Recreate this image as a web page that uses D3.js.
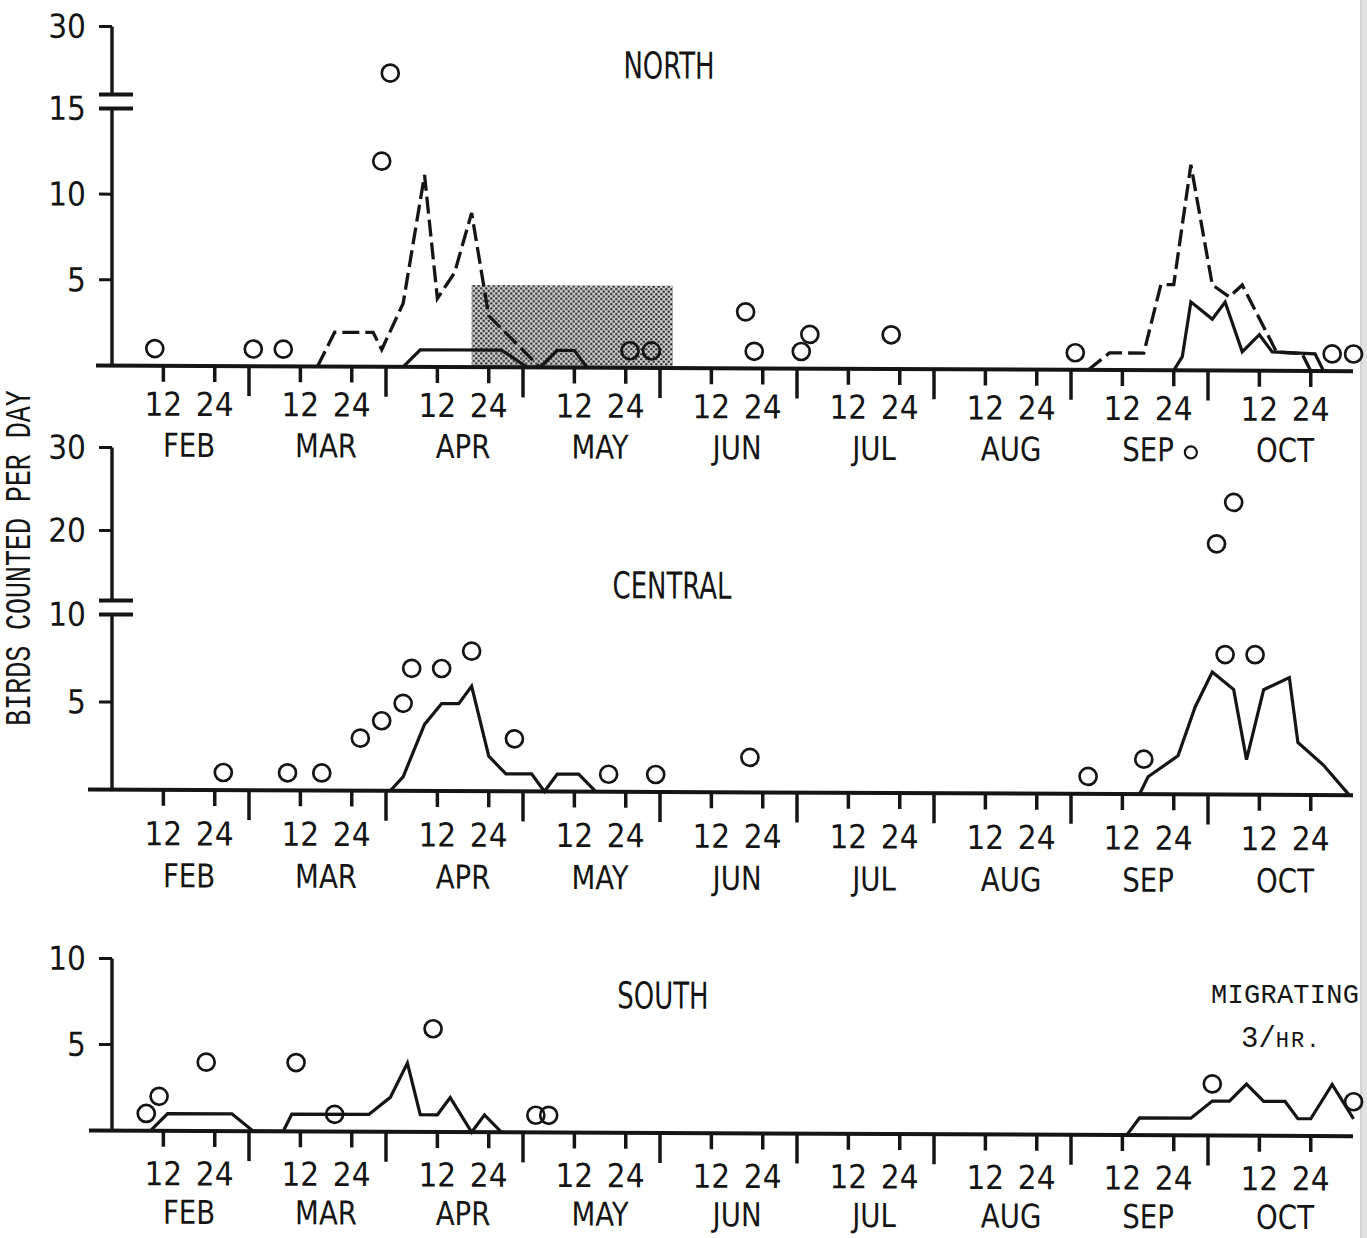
<!DOCTYPE html>
<html>
<head>
<meta charset="utf-8">
<script src="https://cdn.jsdelivr.net/npm/d3@7"></script>
<style>
  html, body { margin: 0; padding: 0; background: #fff; }
  svg { display: block; }
  .goth { font-family: 'Liberation Sans Narrow', 'DejaVu Sans Condensed', 'Arial Narrow', sans-serif; fill: #151515; }
  .mono { font-family: 'Liberation Mono', 'DejaVu Sans Mono', monospace; fill: #151515; }
</style>
</head>
<body>
<svg id="chart" width="1367" height="1238"></svg>
<script>
// ---- calendar axis -------------------------------------------------------
const months = ["FEB", "MAR", "APR", "MAY", "JUN", "JUL", "AUG", "SEP", "OCT"];
const dayTicks = [12, 24];

// ---- NORTH: daily counts ("M/D", birds) -----------------------------------
const northCircles = [
  ["2/10", 1], ["3/1", 1], ["3/8", 1], ["3/31", 12], ["4/1", 20],
  ["5/25", 1], ["5/30", 1], ["6/20", 3.3], ["6/22", 1], ["7/1", 1],
  ["7/3", 2], ["7/22", 2], ["9/1", 1], ["10/29", 1], ["11/2", 1]
];
const northDashedSpring = [
  ["3/16", 0], ["3/20", 2], ["3/29", 2], ["3/31", 1], ["4/4", 3.7],
  ["4/9", 11.2], ["4/12", 4], ["4/16", 5.5], ["4/20", 9], ["4/24", 3], ["5/4", 0]
];
const northSolidSpring = [
  ["4/4", 0], ["4/8", 1], ["4/27", 1], ["5/1", 0], ["5/4", 0],
  ["5/8", 1], ["5/12", 1], ["5/15", 0]
];
const northDashedFall = [
  ["9/4", 0], ["9/9", 1], ["9/17", 1], ["9/21", 5], ["9/24", 5],
  ["9/28", 12], ["10/1", 5], ["10/5", 4.3], ["10/8", 5], ["10/16", 1.1],
  ["10/22", 1], ["10/24", 0]
];
const northSolidFall = [
  ["9/24", 0], ["9/26", 0.8], ["9/28", 4], ["10/1", 3], ["10/4", 4],
  ["10/8", 1.1], ["10/12", 2.1], ["10/15", 1.1], ["10/25", 1], ["10/27", 0]
];
// stippled period on the NORTH panel: [start, end, level]
const northShade = ["4/20", "6/3", 4.8];

// ---- CENTRAL ---------------------------------------------------------------
const centralCircles = [
  ["2/26", 1], ["3/9", 1], ["3/17", 1], ["3/26", 3], ["3/31", 4],
  ["4/4", 5], ["4/6", 7], ["4/13", 7], ["4/20", 8], ["4/30", 3],
  ["5/20", 1], ["5/31", 1], ["6/21", 2], ["9/4", 1], ["9/17", 2],
  ["10/2", 19], ["10/4", 8], ["10/6", 24], ["10/11", 8]
];
// counts at or beyond the top of the scale
const centralCapped = [["9/28", 30]];
const centralSolidSpring = [
  ["4/1", 0], ["4/4", 0.8], ["4/9", 3.8], ["4/13", 5], ["4/17", 5],
  ["4/20", 6], ["4/24", 2], ["4/28", 1], ["5/2", 1], ["5/5", 0],
  ["5/8", 1], ["5/13", 1], ["5/17", 0]
];
const centralSolidFall = [
  ["9/16", 0], ["9/18", 1], ["9/25", 2.2], ["9/29", 5], ["10/1", 7],
  ["10/6", 6], ["10/9", 2], ["10/13", 6], ["10/19", 6.7], ["10/21", 3],
  ["10/27", 1.7], ["11/1", 0]
];

// ---- SOUTH -------------------------------------------------------------------
const southCircles = [
  ["2/8", 1], ["2/11", 2], ["2/22", 4], ["3/11", 4], ["3/20", 1],
  ["4/11", 6], ["5/3", 1], ["5/6", 1], ["10/1", 3], ["11/2", 2]
];
const southSolidSpring = [
  ["2/9", 0], ["2/13", 1], ["2/28", 1], ["3/1", 0], ["3/8", 0],
  ["3/10", 1], ["3/28", 1], ["4/1", 2], ["4/5", 4], ["4/8", 1],
  ["4/12", 1], ["4/15", 2], ["4/20", 0], ["4/23", 1], ["4/27", 0]
];
const southSolidFall = [
  ["9/13", 0], ["9/16", 1], ["9/28", 1], ["10/1", 2], ["10/5", 2],
  ["10/9", 3], ["10/13", 2], ["10/18", 2], ["10/21", 1], ["10/24", 1],
  ["10/29", 3], ["11/2", 1]
];

// ---- helpers -----------------------------------------------------------------
// month index + day position (ticks 12 and 24 sit at 3/8 and 3/4 of a month)
const toMonths = s => { const [M, D] = s.split("/").map(Number); return (M - 2) + D / 32; };

const svg = d3.select("#chart");
const INK = "#151515";

// faint page edge at the right
svg.append("rect").attr("x", 1360).attr("y", 0).attr("width", 7).attr("height", 1238).attr("fill", "#e2e2e2");
svg.append("line").attr("x1", 1361).attr("x2", 1361).attr("y1", 0).attr("y2", 1238).attr("stroke", "#cfcfcf").attr("stroke-width", 1.5);

// stipple pattern
const defs = svg.append("defs");
const pat = defs.append("pattern").attr("id", "stipple").attr("patternUnits", "userSpaceOnUse")
  .attr("width", 5).attr("height", 5);
pat.append("rect").attr("width", 5).attr("height", 5).attr("fill", "#d0d0d0");
pat.append("circle").attr("cx", 1.25).attr("cy", 1.25).attr("r", 1.2).attr("fill", "#2a2a2a");
pat.append("circle").attr("cx", 3.75).attr("cy", 3.75).attr("r", 1.2).attr("fill", "#2a2a2a");

const x = d3.scaleLinear().domain([0, months.length]).range([112, 112 + 137 * months.length]);

const panels = [
  {
    title: "NORTH", titleX: 669, titleY: 62,
    lower: d3.scaleLinear().domain([0, 15]).range([365, 108]),
    upper: d3.scaleLinear().domain([15, 30]).range([94, 26]),
    lowerTicks: [5, 10, 15], upperTicks: [30],
    axisLeftStart: 96, tickLabelDy: 38.5, monthLabelDy: 79,
    circles: northCircles, capped: [],
    solid: [northSolidSpring, northSolidFall],
    dashed: [northDashedSpring, northDashedFall],
    shade: northShade
  },
  {
    title: "CENTRAL", titleX: 672, titleY: 582,
    lower: d3.scaleLinear().domain([0, 10]).range([789, 614]),
    upper: d3.scaleLinear().domain([20, 30]).range([530, 447]),
    lowerTicks: [5, 10], upperTicks: [20, 30],
    axisLeftStart: 88, tickLabelDy: 44, monthLabelDy: 85.5,
    circles: centralCircles, capped: centralCapped,
    solid: [centralSolidSpring, centralSolidFall],
    dashed: [], shade: null
  },
  {
    title: "SOUTH", titleX: 663, titleY: 992,
    lower: d3.scaleLinear().domain([0, 10]).range([1130, 958]),
    upper: null,
    lowerTicks: [5, 10], upperTicks: [],
    axisLeftStart: 89, tickLabelDy: 43, monthLabelDy: 81,
    circles: southCircles, capped: [],
    solid: [southSolidSpring, southSolidFall],
    dashed: [], shade: null
  }
];

// gothic text, optionally squeezed horizontally
function goth(g, px, py, str, size, anchor, sx) {
  return g.append("text").attr("class", "goth")
    .attr("transform", `translate(${px},${py}) scale(${sx || 1},1)`)
    .attr("text-anchor", anchor || "middle")
    .attr("font-size", size).text(str);
}

// the whole sheet sits very slightly askew
const sheet = svg.append("g").attr("transform", "skewY(0.26)");

panels.forEach(p => {
  const g = sheet.append("g");
  const lowMax = p.lower.domain()[1];
  const yv = v => (p.upper && v > lowMax) ? p.upper(v) : p.lower(v);
  const base = p.lower(0);
  const breakLow = p.lower(lowMax);
  const breakHigh = breakLow - 14;
  const top = p.upper ? p.upper(p.upper.domain()[1]) : breakLow;

  // stippled period
  if (p.shade) {
    const [s, e, lvl] = p.shade;
    g.append("rect")
      .attr("x", x(toMonths(s))).attr("width", x(toMonths(e)) - x(toMonths(s)))
      .attr("y", yv(lvl)).attr("height", base - yv(lvl))
      .attr("fill", "url(#stipple)");
  }

  // y axis line (with break)
  const axisX = x(0);
  if (p.upper) {
    g.append("line").attr("x1", axisX).attr("x2", axisX).attr("y1", base).attr("y2", breakLow)
      .attr("stroke", INK).attr("stroke-width", 3.4);
    g.append("line").attr("x1", axisX).attr("x2", axisX).attr("y1", breakHigh).attr("y2", top)
      .attr("stroke", INK).attr("stroke-width", 3.4);
    [breakLow, breakHigh].forEach(by => g.append("line")
      .attr("x1", axisX - 13).attr("x2", axisX + 21).attr("y1", by).attr("y2", by)
      .attr("stroke", INK).attr("stroke-width", 4));
  } else {
    g.append("line").attr("x1", axisX).attr("x2", axisX).attr("y1", base).attr("y2", top)
      .attr("stroke", INK).attr("stroke-width", 3.4);
  }

  // y ticks + labels
  const yTicks = p.lowerTicks.map(v => [v, p.lower(v)])
    .concat(p.upperTicks.map(v => [v, p.upper(v)]));
  yTicks.forEach(([v, yy]) => {
    g.append("line").attr("x1", axisX - 13).attr("x2", axisX).attr("y1", yy).attr("y2", yy)
      .attr("stroke", INK).attr("stroke-width", 3);
    goth(g, axisX - 26, yy + 11.5, String(v), 33, "end");
  });

  // x axis baseline
  g.append("line").attr("x1", p.axisLeftStart).attr("x2", 1353).attr("y1", base).attr("y2", base)
    .attr("stroke", INK).attr("stroke-width", 4);

  // short day ticks with labels, month names beneath
  months.forEach((m, i) => {
    dayTicks.forEach(d => {
      const tx = x(i + d / 32);
      g.append("line").attr("x1", tx).attr("x2", tx).attr("y1", base).attr("y2", base + 16)
        .attr("stroke", INK).attr("stroke-width", 3.5);
      goth(g, tx, base + p.tickLabelDy + 11.5, String(d), 33, "middle");
    });
    goth(g, x(i + 18 / 32), base + p.monthLabelDy + 12, m, 33, "middle", 0.93);
  });
  // long month-boundary ticks
  d3.range(1, months.length).forEach(i => {
    const tx = x(i);
    g.append("line").attr("x1", tx).attr("x2", tx).attr("y1", base).attr("y2", base + 30)
      .attr("stroke", INK).attr("stroke-width", 3.5);
  });

  // lines
  const line = d3.line().x(d => x(toMonths(d[0]))).y(d => yv(d[1]));
  p.solid.forEach(s => g.append("path").attr("d", line(s)).attr("fill", "none")
    .attr("stroke", INK).attr("stroke-width", 3.2).attr("stroke-linejoin", "miter"));
  p.dashed.forEach(s => g.append("path").attr("d", line(s)).attr("fill", "none")
    .attr("stroke", INK).attr("stroke-width", 3.3).attr("stroke-dasharray", "17 6"));

  // daily counts
  g.selectAll(null).data(p.circles).join("circle")
    .attr("cx", d => x(toMonths(d[0]))).attr("cy", d => yv(d[1]))
    .attr("r", 8.5).attr("fill", "none").attr("stroke", INK).attr("stroke-width", 2.7);
  g.selectAll(null).data(p.capped).join("circle")
    .attr("cx", d => x(toMonths(d[0]))).attr("cy", d => yv(d[1]))
    .attr("r", 6).attr("fill", "none").attr("stroke", INK).attr("stroke-width", 2.2);

  // panel title
  goth(g, p.titleX, p.titleY + 13.5, p.title, 37, "middle", 0.78);
});

// note in the SOUTH panel
svg.append("text").attr("class", "mono").attr("x", 1211).attr("y", 1003)
  .attr("font-size", 27).attr("textLength", 148).text("MIGRATING");
const rate = svg.append("text").attr("class", "mono").attr("x", 1241).attr("y", 1047).attr("font-size", 29);
rate.append("tspan").text("3/");
rate.append("tspan").attr("font-size", 22).attr("letter-spacing", 2).text("HR.");

// axis title
svg.append("text").attr("class", "mono")
  .attr("transform", "translate(30,558) rotate(-90) scale(0.72,1)")
  .attr("text-anchor", "middle").attr("font-size", 37).text("BIRDS COUNTED PER DAY");
</script>
</body>
</html>
